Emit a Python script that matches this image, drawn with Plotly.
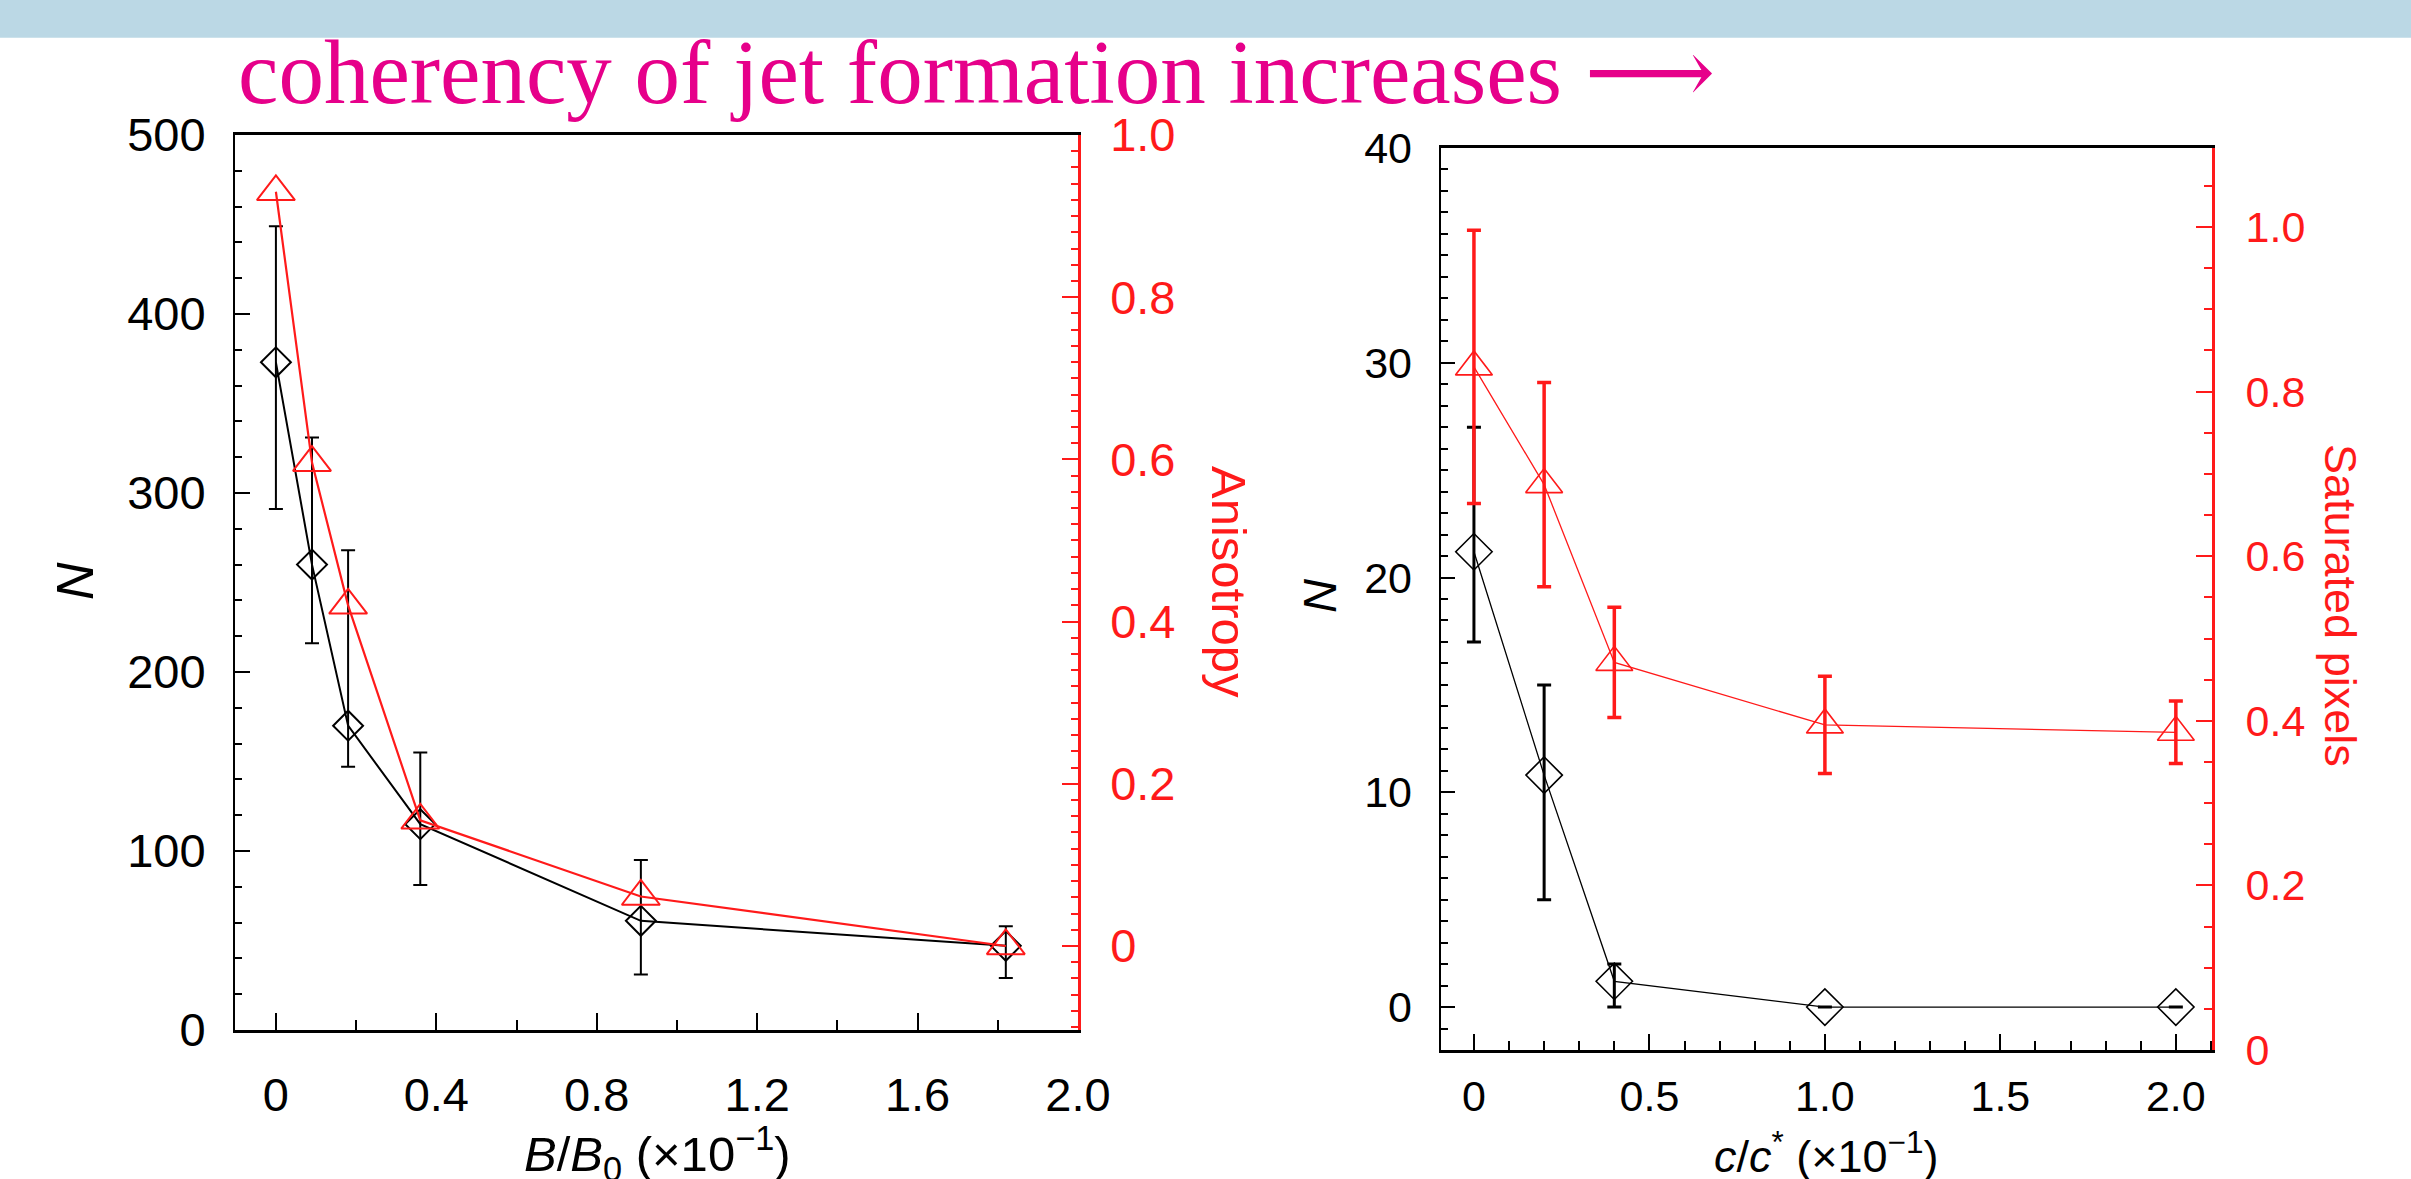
import plotly.graph_objects as go

W, H = 2411, 1179

# ---------------- data: left panel ----------------
b_ratio = [0.0, 0.09, 0.18, 0.36, 0.91, 1.82]
n_left = [373, 260, 170, 115, 61, 47]
n_left_err_plus = [76, 71, 98, 40, 34, 11]
n_left_err_minus = [82, 44, 23, 34, 30, 18]
anisotropy = [0.93, 0.596, 0.42, 0.155, 0.061, 0.0]

left_x_ticks = [0, 0.4, 0.8, 1.2, 1.6, 2.0]
left_x_labels = ["0", "0.4", "0.8", "1.2", "1.6", "2.0"]
left_y_ticks = [0, 100, 200, 300, 400, 500]
left_y2_ticks = [0, 0.2, 0.4, 0.6, 0.8, 1.0]
left_y2_labels = ["0", "0.2", "0.4", "0.6", "0.8", "1.0"]

# ---------------- data: right panel ----------------
c_ratio = [0.0, 0.2, 0.4, 1.0, 2.0]
n_right = [21.2, 10.8, 1.2, 0.0, 0.0]
n_right_err_plus = [5.8, 4.2, 0.8, 0.0, 0.0]
n_right_err_minus = [4.2, 5.8, 1.2, 0.0, 0.0]
saturated = [0.83, 0.687, 0.471, 0.395, 0.386]
saturated_err = [0.166, 0.124, 0.067, 0.059, 0.038]

right_x_ticks = [0, 0.5, 1.0, 1.5, 2.0]
right_x_labels = ["0", "0.5", "1.0", "1.5", "2.0"]
right_y_ticks = [0, 10, 20, 30, 40]
right_y2_ticks = [0, 0.2, 0.4, 0.6, 0.8, 1.0]
right_y2_labels = ["0", "0.2", "0.4", "0.6", "0.8", "1.0"]

RED = "#FF1A1A"
MAGENTA = "#E6008A"
SANS = "Liberation Sans, Arial, sans-serif"


def px_x(x):
    return x / W


def px_y(y):
    return 1 - y / H


fig = go.Figure()

# left panel traces
fig.add_trace(go.Scatter(
    x=b_ratio, y=n_left, mode="lines+markers", xaxis="x", yaxis="y",
    line=dict(color="black", width=2),
    marker=dict(symbol="diamond-open", size=23, color="black", line=dict(width=2)),
    error_y=dict(type="data", array=n_left_err_plus, arrayminus=n_left_err_minus,
                 color="black", thickness=2, width=7),
    showlegend=False))
fig.add_trace(go.Scatter(
    x=b_ratio, y=anisotropy, mode="lines+markers", xaxis="x", yaxis="y2",
    line=dict(color=RED, width=2.2),
    marker=dict(symbol="triangle-up-open", size=33, color=RED, line=dict(width=2)),
    showlegend=False))

# right panel traces
fig.add_trace(go.Scatter(
    x=c_ratio, y=n_right, mode="lines+markers", xaxis="x2", yaxis="y3",
    line=dict(color="black", width=1.3),
    marker=dict(symbol="diamond-open", size=28, color="black", line=dict(width=1.6)),
    error_y=dict(type="data", array=n_right_err_plus, arrayminus=n_right_err_minus,
                 color="black", thickness=3, width=7),
    showlegend=False))
fig.add_trace(go.Scatter(
    x=c_ratio, y=saturated, mode="lines+markers", xaxis="x2", yaxis="y4",
    line=dict(color=RED, width=1.3),
    marker=dict(symbol="triangle-up-open", size=32, color=RED, line=dict(width=1.6)),
    error_y=dict(type="data", array=saturated_err, color=RED, thickness=3.5, width=7),
    showlegend=False))

left_dom_x = [px_x(235), px_x(1078)]
left_dom_y = [px_y(1030), px_y(135)]
right_dom_x = [px_x(1440.6), px_x(2212)]
right_dom_y = [px_y(1050), px_y(148)]

tickfont_l = dict(family=SANS, size=47, color="black")
tickfont_l_red = dict(family=SANS, size=47, color=RED)
tickfont_r = dict(family=SANS, size=43, color="black")
tickfont_r_red = dict(family=SANS, size=43, color=RED)

fig.update_layout(
    width=W, height=H, margin=dict(l=0, r=0, t=0, b=0, autoexpand=False),
    paper_bgcolor="white", plot_bgcolor="white",
    xaxis=dict(domain=left_dom_x, range=[-0.102, 2.0], anchor="y", automargin=False,
               showline=True, linecolor="black", linewidth=3, mirror=True,
               ticks="inside", ticklen=17, tickwidth=2, tickcolor="black",
               tickvals=left_x_ticks, ticktext=left_x_labels, tickfont=tickfont_l,
               minor=dict(ticks="inside", ticklen=10, dtick=0.2, tick0=0, tickcolor="black", tickwidth=1.5),
               showgrid=False, zeroline=False, ticklabelstandoff=22),
    yaxis=dict(domain=left_dom_y, range=[0, 500], anchor="x", automargin=False,
               showline=True, linecolor="black", linewidth=2,
               ticks="inside", ticklen=15, tickwidth=2, tickcolor="black",
               tickvals=left_y_ticks, tickfont=tickfont_l,
               minor=dict(ticks="inside", ticklen=7, dtick=20, tick0=0, tickcolor="black", tickwidth=1.5),
               showgrid=False, zeroline=False, ticklabelstandoff=18),
    yaxis2=dict(range=[-0.1036, 1.0], overlaying="y", side="right", anchor="x", automargin=False,
                showline=True, linecolor=RED, linewidth=2.5,
                ticks="inside", ticklen=16, tickwidth=2, tickcolor=RED,
                tickvals=left_y2_ticks, ticktext=left_y2_labels, tickfont=tickfont_l_red,
                minor=dict(ticks="inside", ticklen=7, dtick=0.02, tick0=0, tickcolor=RED, tickwidth=1.5),
                showgrid=False, zeroline=False, ticklabelstandoff=20),
    xaxis2=dict(domain=right_dom_x, range=[-0.095, 2.103], anchor="y3", automargin=False,
                showline=True, linecolor="black", linewidth=2.5, mirror=True,
                ticks="inside", ticklen=16, tickwidth=2, tickcolor="black",
                tickvals=right_x_ticks, ticktext=right_x_labels, tickfont=tickfont_r,
                minor=dict(ticks="inside", ticklen=9, dtick=0.1, tick0=0, tickcolor="black", tickwidth=1.5),
                showgrid=False, zeroline=False, ticklabelstandoff=7),
    yaxis3=dict(domain=right_dom_y, range=[-2, 40], anchor="x2", automargin=False,
                showline=True, linecolor="black", linewidth=2,
                ticks="inside", ticklen=14, tickwidth=2, tickcolor="black",
                tickvals=right_y_ticks, tickfont=tickfont_r,
                minor=dict(ticks="inside", ticklen=7, dtick=1, tick0=0, tickcolor="black", tickwidth=1.5),
                showgrid=False, zeroline=False, ticklabelstandoff=18),
    yaxis4=dict(range=[0, 1.096], overlaying="y3", side="right", anchor="x2", automargin=False,
                showline=True, linecolor=RED, linewidth=3,
                ticks="inside", ticklen=16, tickwidth=2, tickcolor=RED,
                tickvals=right_y2_ticks, ticktext=right_y2_labels, tickfont=tickfont_r_red,
                minor=dict(ticks="inside", ticklen=8, dtick=0.05, tick0=0, tickcolor=RED, tickwidth=1.5),
                showgrid=False, zeroline=False, ticklabelstandoff=22),
)

# banner
fig.add_shape(type="rect", xref="paper", yref="paper", x0=0, x1=1,
              y0=px_y(37.7), y1=1, fillcolor="#BBD8E5", line=dict(width=0), layer="below")

annotations = [
    dict(text="coherency of jet formation increases ⟶", x=px_x(236), y=px_y(73),
         xanchor="left", yanchor="middle",
         font=dict(family="Liberation Serif, DejaVu Serif, serif", size=91, color=MAGENTA)),
    dict(text="<i>N</i>", x=px_x(75), y=px_y(581), textangle=-90,
         font=dict(family=SANS, size=52, color="black")),
    dict(text="Anisotropy", x=px_x(1229), y=px_y(582), textangle=90,
         font=dict(family=SANS, size=49, color=RED)),
    dict(text="<i>B</i>/<i>B</i><sub>0</sub> (×10<sup>−1</sup>)", x=px_x(657), y=px_y(1153),
         yanchor="middle", font=dict(family=SANS, size=49, color="black")),
    dict(text="<i>N</i>", x=px_x(1319), y=px_y(596), textangle=-90,
         font=dict(family=SANS, size=47, color="black")),
    dict(text="Saturated pixels", x=px_x(2341), y=px_y(605), textangle=90,
         font=dict(family=SANS, size=45, color=RED)),
    dict(text="<i>c</i>/<i>c</i><sup>*</sup> (×10<sup>−1</sup>)", x=px_x(1826), y=px_y(1153),
         yanchor="middle", font=dict(family=SANS, size=45, color="black")),
]
for a in annotations:
    a.setdefault("xanchor", "center")
    a.setdefault("yanchor", "middle")
    fig.add_annotation(xref="paper", yref="paper", showarrow=False, **a)

fig.write_html("out.html")
